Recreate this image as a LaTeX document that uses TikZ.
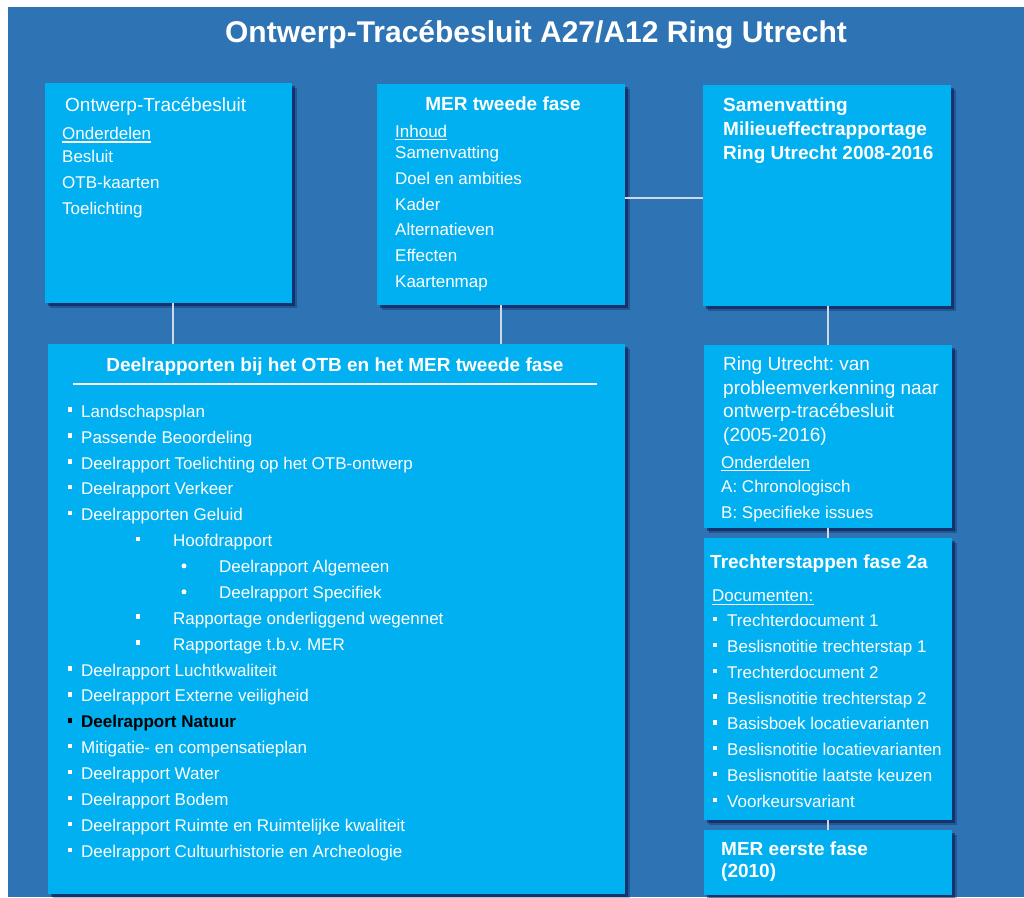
\documentclass[tikz,border=0pt]{standalone}
\usepackage{fontspec}
\setmainfont{Liberation Sans}
\frenchspacing
\usetikzlibrary{shadows}
\definecolor{ringbg}{RGB}{46,116,181}
\definecolor{boxcyan}{RGB}{0,176,240}
\definecolor{linkgrey}{RGB}{205,216,232}
\newcommand{\fs}[2]{\fontsize{#1}{#2}\selectfont}

\begin{document}
\begin{tikzpicture}[x=1pt, y=-1pt]
        \tikzstyle{box}=[rectangle, fill=boxcyan, inner sep=0, anchor=north west,
          drop shadow={shadow xshift=4.5pt, shadow yshift=-4.5pt, opacity=0.25, fill=black!80!blue},
          drop shadow={shadow xshift=2.5pt, shadow yshift=-2.5pt, opacity=0.4, fill=black!80!blue}]
        \tikzstyle{item}=[inner sep=0, anchor=base west, text=white, font=\fs{17}{20}]
        \tikzstyle{head}=[inner sep=0, anchor=base west, text=white, font=\fs{19}{23}]
        \tikzstyle{bhead}=[head, font=\fs{19}{23}\bfseries]
        \tikzstyle{sq}=[rectangle, fill=white, minimum size=4.5pt, inner sep=0]
        \tikzstyle{dot}=[circle, fill=white, minimum size=5pt, inner sep=0]
        \tikzstyle{link}=[draw=linkgrey, line width=2pt]
        \tikzstyle{uline}=[draw=white, line width=1.2pt]
        % achtergrond
        \useasboundingbox (0,0) rectangle (1024,897);
        \fill[white] (0,0) rectangle (1024,897);
        \fill[ringbg] (8,7) rectangle (1024,897);
        \node [inner sep=0, anchor=base, text=white, font=\fs{30}{36}\bfseries] (title) at (536,42) {Ontwerp-Tracébesluit A27/A12 Ring Utrecht};
        % blokken
        \node [box, minimum width=247, minimum height=220] (otb) at (45,83) {};
        \node [box, minimum width=248, minimum height=221] (mer2) at (377,84) {};
        \node [box, minimum width=248, minimum height=221] (samv) at (703,85) {};
        \node [box, minimum width=577, minimum height=550] (deel) at (48,344) {};
        \node [box, minimum width=248, minimum height=183] (ring) at (704,345) {};
        \node [box, minimum width=248, minimum height=282] (trechter) at (704,538) {};
        \node [box, minimum width=248, minimum height=65] (mer1) at (704,830) {};
        \draw[link] ([xshift=4.5pt]otb.south) -- ([xshift=4.5pt]otb.south |- deel.north);
        \draw[link] (mer2.south) -- (mer2.south |- deel.north);
        \draw[link] ([yshift=-3.5pt]mer2.east) -- ([yshift=-3.5pt]mer2.east -| samv.west);
        \draw[link] ([xshift=1pt]samv.south) -- ([xshift=1pt]samv.south |- ring.north);
        \draw[link] (ring.south) -- (trechter.north);
        \draw[link] (trechter.south) -- (mer1.north);
        % Ontwerp-Tracebesluit
        \node [head] (otb-head) at (65,111) {Ontwerp-Tracébesluit};
        \node [item] (otb-ond) at (62,139.5) {Onderdelen};
        \draw[uline] ([yshift=-2.5pt]otb-ond.base west) -- ([yshift=-2.5pt]otb-ond.base east);
        \node [item] (otb-1) at (62,162.5) {Besluit};
        \node [item] (otb-2) at (62,188.3) {OTB-kaarten};
        \node [item] (otb-3) at (62,214) {Toelichting};
        % MER tweede fase
        \node [bhead, anchor=base] (mer2-head) at (503,110) {MER tweede fase};
        \node [item] (mer2-inh) at (395,137) {Inhoud};
        \draw[uline] ([yshift=-2.5pt]mer2-inh.base west) -- ([yshift=-2.5pt]mer2-inh.base east);
        \foreach \y/\t [count=\i] in {158.5/Samenvatting, 184.3/Doel en ambities, 210/Kader, 235.8/Alternatieven, 261.6/Effecten, 287.4/Kaartenmap}
          \node [item] (mer2-\i) at (395,\y) {\t};
        % Samenvatting
        \node [bhead] (samv-1) at (723,111.7) {Samenvatting};
        \node [bhead] (samv-2) at (723,135.5) {Milieueffectrapportage};
        \node [bhead] (samv-3) at (723,159) {Ring Utrecht 2008-2016};
        % Deelrapporten
        \node [bhead, anchor=base] (deel-head) at (335,371.7) {Deelrapporten bij het OTB en het MER tweede fase};
        \draw[uline, line width=2pt] (73,383.5) -- (597,383.5);
        \foreach \y/\t [count=\i] in {417/Landschapsplan, 443/Passende Beoordeling, 469/Deelrapport Toelichting op het OTB-ontwerp, 494.7/Deelrapport Verkeer, 520.6/Deelrapporten Geluid, 676/Deelrapport Luchtkwaliteit, 701.9/Deelrapport Externe veiligheid, 753.7/Mitigatie- en compensatieplan, 779.6/Deelrapport Water, 805.5/Deelrapport Bodem, 831.4/Deelrapport Ruimte en Ruimtelijke kwaliteit, 857.3/Deelrapport Cultuurhistorie en Archeologie}
        {
          \node [sq] (deel-b\i) at (70,\y-7.5) {};
          \node [item] (deel-\i) at (81,\y) {\t};
        }
        \foreach \y/\t [count=\i] in {546.5/Hoofdrapport, 624.2/Rapportage onderliggend wegennet, 650.1/Rapportage t.b.v. MER}
        {
          \node [sq] (geluid-b\i) at (138,\y-7.5) {};
          \node [item] (geluid-\i) at (173,\y) {\t};
        }
        \foreach \y/\t [count=\i] in {572.4/Deelrapport Algemeen, 598.3/Deelrapport Specifiek}
        {
          \node [dot] (hoofd-b\i) at (184,\y-6.5) {};
          \node [item] (hoofd-\i) at (219,\y) {\t};
        }
        \node [sq, fill=black] (natuur-b) at (70,720.3) {};
        \node [item, text=black, font=\fs{17}{20}\bfseries] (natuur) at (81,727.8) {Deelrapport Natuur};
        % Ring Utrecht
        \node [head] (ring-1) at (723,370.7) {Ring Utrecht: van};
        \node [head] (ring-2) at (723,394.2) {probleemverkenning naar};
        \node [head] (ring-3) at (723,417.7) {ontwerp-tracébesluit};
        \node [head] (ring-4) at (723,441.2) {(2005-2016)};
        \node [item] (ring-ond) at (721,468.3) {Onderdelen};
        \draw[uline] ([yshift=-2.5pt]ring-ond.base west) -- ([yshift=-2.5pt]ring-ond.base east);
        \node [item] (ring-a) at (721,492.7) {A: Chronologisch};
        \node [item] (ring-b) at (721,518.3) {B: Specifieke issues};
        % Trechterstappen
        \node [bhead] (trechter-head) at (710,568.3) {Trechterstappen fase 2a};
        \node [item] (trechter-doc) at (712,601.7) {Documenten:};
        \draw[uline] ([yshift=-2.5pt]trechter-doc.base west) -- ([yshift=-2.5pt]trechter-doc.base east);
        \foreach \y/\t [count=\i] in {626.7/Trechterdocument 1, 652.5/Beslisnotitie trechterstap 1, 678.3/Trechterdocument 2, 704.1/Beslisnotitie trechterstap 2, 729.9/Basisboek locatievarianten, 755.7/Beslisnotitie locatievarianten, 781.5/Beslisnotitie laatste keuzen, 807.3/Voorkeursvariant}
        {
          \node [sq] (trechter-b\i) at (715,\y-7.5) {};
          \node [item] (trechter-\i) at (727,\y) {\t};
        }
        % MER eerste fase
        \node [bhead] (mer1-1) at (721,855) {MER eerste fase};
        \node [bhead] (mer1-2) at (721,877) {(2010)};
\end{tikzpicture}
\end{document}
